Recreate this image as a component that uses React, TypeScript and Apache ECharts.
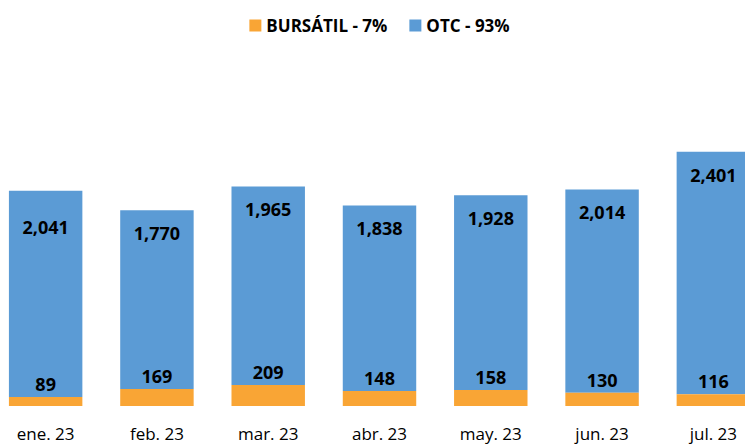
import React, { useEffect, useRef } from "react";
import * as echarts from "echarts";

const categories = ["ene. 23", "feb. 23", "mar. 23", "abr. 23", "may. 23", "jun. 23", "jul. 23"];
const bursatil = [89, 169, 209, 148, 158, 130, 116];
const otc = [2041, 1770, 1965, 1838, 1928, 2014, 2401];
const seriesNames = ["BURSÁTIL - 7%", "OTC - 93%"];

const FONT = "'Open Sans', sans-serif";

export default function App() {
  const ref = useRef<HTMLDivElement>(null);
  useEffect(() => {
    document.body.style.overflow = "hidden";
    const chart = echarts.init(ref.current!, null, { renderer: "svg" });
    chart.setOption({
      animation: false,
      backgroundColor: "#ffffff",
      textStyle: { fontFamily: FONT },
      legend: {
        top: 12,
        left: "center",
        itemWidth: 12,
        itemHeight: 12,
        itemGap: 22,
        icon: "rect",
        textStyle: { fontFamily: FONT, fontSize: 17, fontWeight: "bold", color: "#000" },
        data: seriesNames,
      },
      grid: { left: 0, right: 0, top: 103, bottom: 40 },
      xAxis: {
        type: "category",
        data: categories,
        axisLine: { show: false },
        axisTick: { show: false },
        axisLabel: { fontFamily: FONT, fontSize: 17, color: "#000", margin: 19 },
      },
      yAxis: {
        type: "value",
        min: 0,
        max: 3000,
        show: false,
        splitLine: { show: false },
      },
      series: [
        {
          name: seriesNames[0],
          type: "bar",
          stack: "total",
          barWidth: "66%",
          itemStyle: { color: "#F9A535" },
          data: bursatil,
          label: {
            show: true,
            position: "top",
            distance: 4,
            fontFamily: FONT,
            fontSize: 18,
            fontWeight: "bold",
            color: "#000",
          },
          z: 3,
        },
        {
          name: seriesNames[1],
          type: "bar",
          stack: "total",
          barWidth: "66%",
          itemStyle: { color: "#5B9BD5" },
          data: otc.map((v, i) =>
            i === 0 ? { value: v, label: { offset: [0, 13] } } : v
          ),
          label: {
            show: true,
            position: "insideTop",
            distance: 14,
            fontFamily: FONT,
            fontSize: 18,
            fontWeight: "bold",
            color: "#000",
            formatter: (p: any) => Number(p.value).toLocaleString("en-US"),
          },
          z: 2,
        },
      ],
    });
    return () => chart.dispose();
  }, []);
  return (
    <div
      ref={ref}
      style={{ position: "fixed", left: -10, top: 0, width: 779, height: 446 }}
    />
  );
}
